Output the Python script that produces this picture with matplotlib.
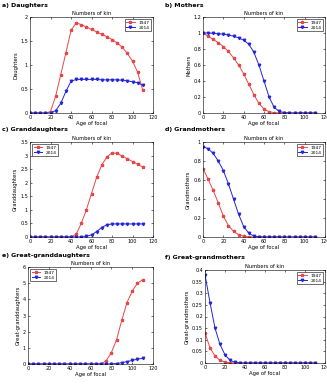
import numpy as np
import matplotlib
matplotlib.use('Agg')
import matplotlib.pyplot as plt

# ages of focal, every 5 years
ages = np.arange(0, 111, 5)

daughters_1947 = [0, 0, 0, 0, 0.03, 0.35, 0.8, 1.25, 1.72, 1.88, 1.84, 1.79, 1.74, 1.69,
                  1.64, 1.59, 1.53, 1.46, 1.37, 1.24, 1.08, 0.85, 0.47]
daughters_2014 = [0, 0, 0, 0, 0, 0.05, 0.2, 0.45, 0.66, 0.7, 0.7, 0.7, 0.7, 0.7,
                  0.69, 0.69, 0.69, 0.69, 0.68, 0.67, 0.65, 0.63, 0.58]

mothers_1947 = [1.0, 0.96, 0.92, 0.88, 0.83, 0.77, 0.69, 0.6, 0.49, 0.36, 0.23, 0.12,
                0.05, 0.015, 0.005, 0, 0, 0, 0, 0, 0, 0, 0]
mothers_2014 = [1.0, 1.0, 0.995, 0.99, 0.985, 0.975, 0.96, 0.94, 0.91, 0.86, 0.76, 0.6,
                0.4, 0.2, 0.07, 0.02, 0.005, 0, 0, 0, 0, 0, 0]

granddaughters_1947 = [0, 0, 0, 0, 0, 0, 0, 0, 0, 0.1, 0.5, 1.0, 1.6, 2.2, 2.65, 2.95,
                       3.1, 3.08, 2.98, 2.88, 2.78, 2.68, 2.58]
granddaughters_2014 = [0, 0, 0, 0, 0, 0, 0, 0, 0, 0, 0, 0.02, 0.08, 0.2, 0.35, 0.45,
                       0.48, 0.48, 0.48, 0.48, 0.48, 0.48, 0.48]

grandmothers_1947 = [0.72, 0.61, 0.49, 0.36, 0.22, 0.12, 0.06, 0.025, 0.008, 0.002,
                     0, 0, 0, 0, 0, 0, 0, 0, 0, 0, 0, 0, 0]
grandmothers_2014 = [0.95, 0.93, 0.88, 0.8, 0.7, 0.56, 0.4, 0.24, 0.11, 0.04, 0.01,
                     0.003, 0, 0, 0, 0, 0, 0, 0, 0, 0, 0, 0]

ggdaughters_1947 = [0, 0, 0, 0, 0, 0, 0, 0, 0, 0, 0, 0, 0, 0, 0, 0.2, 0.7, 1.5, 2.7,
                    3.8, 4.5, 5.0, 5.2]
ggdaughters_2014 = [0, 0, 0, 0, 0, 0, 0, 0, 0, 0, 0, 0, 0, 0, 0, 0, 0, 0.03, 0.08,
                    0.15, 0.22, 0.3, 0.35]

ggmothers_1947 = [0.13, 0.065, 0.03, 0.012, 0.004, 0.001, 0, 0, 0, 0, 0, 0, 0, 0, 0,
                  0, 0, 0, 0, 0, 0, 0, 0]
ggmothers_2014 = [0.38, 0.26, 0.15, 0.08, 0.035, 0.012, 0.003, 0, 0, 0, 0, 0, 0, 0, 0,
                  0, 0, 0, 0, 0, 0, 0, 0]

panels = [
    ('a) Daughters', 'Daughters', daughters_1947, daughters_2014, 2, 0.5, 'upper right'),
    ('b) Mothers', 'Mothers', mothers_1947, mothers_2014, 1.2, 0.2, 'upper right'),
    ('c) Granddaughters', 'Granddaughters', granddaughters_1947, granddaughters_2014, 3.5, 0.5, 'upper left'),
    ('d) Grandmothers', 'Grandmothers', grandmothers_1947, grandmothers_2014, 1, 0.2, 'upper right'),
    ('e) Great-granddaughters', 'Great-granddaughters', ggdaughters_1947, ggdaughters_2014, 6, 1, 'upper left'),
    ('f) Great-grandmothers', 'Great-grandmothers', ggmothers_1947, ggmothers_2014, 0.4, 0.05, 'upper right'),
]

W, H = 327, 388
# axes boxes in pixels: left, right, top, bottom
boxes = [(30, 153, 17, 113), (203, 325, 17, 113),
         (30, 153, 142, 237), (203, 325, 142, 237),
         (28, 153, 267, 364), (205, 325, 270, 363)]

fig = plt.figure(figsize=(W / 100, H / 100), dpi=100)

for i, ((label, ylab, y47, y14, ymax, ystep, loc), (l, r, t, b)) in enumerate(zip(panels, boxes)):
    ax = fig.add_axes([l / W, 1 - b / H, (r - l) / W, (b - t) / H])
    ax.plot(ages, y47, color='#e8474a', marker='*', markersize=2.3, linewidth=0.7, label='1947')
    ax.plot(ages, y14, color='#2424d8', marker='v', markersize=1.8, linewidth=0.7, label='2014')
    ax.set_xlim(0, 120)
    ax.set_ylim(0, ymax)
    ax.set_xticks(np.arange(0, 121, 20))
    ax.set_yticks(np.arange(0, ymax + ystep / 2, ystep))
    ax.yaxis.set_major_formatter(matplotlib.ticker.FormatStrFormatter('%g'))
    ax.tick_params(direction='in', length=1.5, width=0.4, labelsize=3.5, pad=1.5,
                   top=True, right=True)
    for s in ax.spines.values():
        s.set_linewidth(0.4)
    ax.set_title('Numbers of kin', fontsize=3.7, pad=1.5)
    ax.set_xlabel('Age of focal', fontsize=3.8, labelpad=1)
    ax.set_ylabel(ylab, fontsize=3.8, labelpad=1.5)
    leg = ax.legend(loc=loc, fontsize=3.2, handlelength=2, borderpad=0.3,
                    labelspacing=0.2, fancybox=False, edgecolor='black', framealpha=1)
    leg.get_frame().set_linewidth(0.4)
    lx = 2 if i % 2 == 0 else 165
    fig.text(lx / W, 1 - (t - 12) / H, label,
             fontsize=4.5, fontweight='bold', va='center', ha='left')

fig.savefig('out.png', dpi=100)
